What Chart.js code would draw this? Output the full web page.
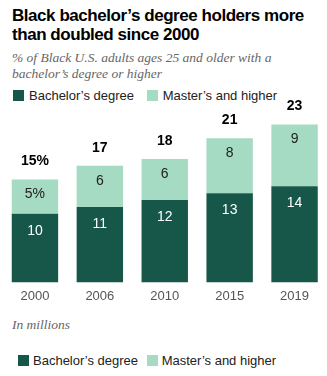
<!DOCTYPE html>
<html>
<head>
<meta charset="utf-8">
<script src="https://cdn.jsdelivr.net/npm/chart.js@4"></script>
<style>
  body { margin: 0; background: #fff; }
  #wrap { position: relative; width: 327px; height: 376px; overflow: hidden; font-family: "Liberation Sans", Arial, sans-serif; }
  .title { position: absolute; left: 12px; top: 6px; width: 315px; font-weight: bold; font-size: 17px; letter-spacing: -0.45px; line-height: 19px; color: #000; }
  .sub { position: absolute; left: 12px; font-family: "Liberation Serif", "DejaVu Serif", serif; font-style: italic; font-size: 13.5px; line-height: 16px; color: #666; white-space: nowrap; }
  .legend { position: absolute; font-size: 13px; color: #222; white-space: nowrap; }
  .legend span.box { display: inline-block; width: 11px; height: 11px; vertical-align: -1px; margin-right: 5px; }
  .legend span.item { margin-right: 9px; }
  #chartBox { position: absolute; left: 0; top: 98px; width: 327px; height: 212px; }
</style>
</head>
<body>
<div id="wrap">
  <div class="title">Black bachelor’s degree holders more than doubled since 2000</div>
  <div class="sub" style="top:50px;">% of Black U.S. adults ages 25 and older with a<br>bachelor’s degree or higher</div>
  <div class="legend" style="left:13px; top:88px;">
    <span class="item"><span class="box" style="background:#16574a"></span>Bachelor’s degree</span>
    <span class="item"><span class="box" style="background:#a5dac3"></span>Master’s and higher</span>
  </div>
  <div id="chartBox"><canvas id="myChart"></canvas></div>
  <div class="sub" style="top:317px;">In millions</div>
  <div class="legend" style="left:18px; top:353px;">
    <span class="item" style="margin-right:5px"><span class="box" style="background:#16574a; margin-right:4px"></span>Bachelor’s degree</span>
    <span class="item"><span class="box" style="background:#a5dac3; margin-right:4px"></span>Master’s and higher</span>
  </div>
</div>

<script>
const years = ['2000', '2006', '2010', '2015', '2019'];
const bachelor = [10, 11, 12, 13, 14];
const masters = [5, 6, 6, 8, 9];
const totals = ['15%', '17', '18', '21', '23'];
const mastersText = ['5%', '6', '6', '8', '9'];

const darkGreen = '#16574a';
const lightGreen = '#a5dac3';

// numbers inside each segment plus the total above each bar
const barLabels = {
  id: 'barLabels',
  afterDatasetsDraw(chart) {
    const ctx = chart.ctx;
    const low = chart.getDatasetMeta(0).data;
    const high = chart.getDatasetMeta(1).data;
    ctx.save();
    ctx.textAlign = 'center';
    ctx.textBaseline = 'middle';
    for (let i = 0; i < years.length; i++) {
      ctx.font = '14px "Liberation Sans", Arial, sans-serif';
      ctx.fillStyle = '#fff';
      ctx.fillText(String(bachelor[i]), low[i].x, low[i].y + 17);
      ctx.fillStyle = '#222';
      ctx.fillText(mastersText[i], high[i].x, high[i].y + 15);
      ctx.font = 'bold 14px "Liberation Sans", Arial, sans-serif';
      ctx.fillStyle = '#000';
      ctx.fillText(totals[i], high[i].x, high[i].y - 18);
    }
    ctx.restore();
  }
};

function draw(chart) {
  myChart = new Chart(chart, {
    type: 'bar',
    data: {
      labels: years,
      datasets: [
        {
          label: 'Bachelor’s degree',
          data: bachelor,
          backgroundColor: darkGreen,
          barPercentage: 0.715,
          categoryPercentage: 1
        },
        {
          label: 'Master’s and higher',
          data: masters,
          backgroundColor: lightGreen,
          barPercentage: 0.715,
          categoryPercentage: 1
        }
      ]
    },
    options: {
      responsive: true,
      maintainAspectRatio: false,
      animation: false,
      layout: { padding: { left: 2.5, right: 0, top: 6, bottom: 0 } },
      plugins: {
        legend: { display: false },
        tooltip: { enabled: false }
      },
      scales: {
        x: {
          stacked: true,
          grid: { display: false, drawTicks: false },
          border: { display: false },
          ticks: {
            color: '#555',
            padding: 6,
            font: { size: 13, family: '"Liberation Sans", Arial, sans-serif' }
          }
        },
        y: {
          stacked: true,
          display: false,
          min: 0,
          max: 26
        }
      }
    },
    plugins: [barLabels]
  });
}

window.addEventListener('load', setup);

function setup() {
  var ctx = document.getElementById('myChart').getContext('2d');
  draw(ctx);
}
</script>
</body>
</html>
